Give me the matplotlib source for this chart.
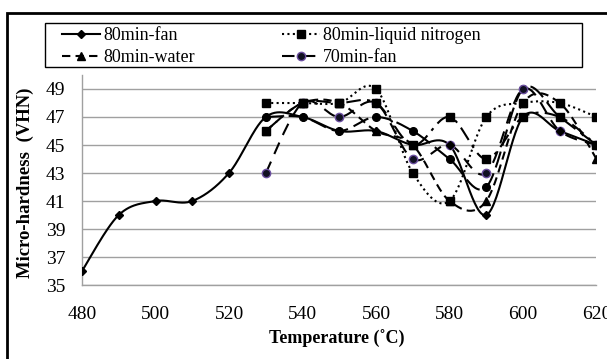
import numpy as np
import matplotlib
matplotlib.use("Agg")
import matplotlib.pyplot as plt
from matplotlib.lines import Line2D
from matplotlib.patches import Rectangle

plt.rcParams['font.family'] = ['Liberation Serif', 'DejaVu Serif']

# ---- data ----
temps_long = [480, 490, 500, 510, 520, 530, 540, 550, 560, 570, 580, 590, 600, 610, 620]
fan_80 = [36, 40, 41, 41, 43, 47, 47, 46, 46, 45, 45, 40, 47, 46, 45]

temps = [530, 540, 550, 560, 570, 580, 590, 600, 610, 620]
nitrogen_80 = [48, 48, 48, 49, 43, 41, 47, 48, 48, 47]
water_80 = [46, 48, 48, 46, 45, 41, 41, 48, 48, 44]
fan_70 = [43, 48, 47, 48, 44, 45, 43, 49, 46, 45]
# two more curves drawn in the chart but not in its legend
extra_sq = [46, 48, 48, 48, 45, 47, 44, 47, 47, 45]
extra_circ = [47, 47, 46, 47, 46, 44, 42, 49, 47, 45]

y_ticks = [35, 37, 39, 41, 43, 45, 47, 49]
x_ticks = [480, 500, 520, 540, 560, 580, 600, 620]


def smooth(xs, ys, n=30):
    """Excel-like smoothed line (Bezier through the points)."""
    p = np.column_stack([xs, ys]).astype(float)
    ext = np.vstack([p[0], p, p[-1]])
    out = []
    t = np.linspace(0, 1, n)[:, None]
    for i in range(len(p) - 1):
        p0, p1, p2, p3 = ext[i], ext[i + 1], ext[i + 2], ext[i + 3]
        c1 = p1 + (p2 - p0) / 6
        c2 = p2 - (p3 - p1) / 6
        seg = ((1 - t) ** 3) * p1 + 3 * ((1 - t) ** 2) * t * c1 + 3 * (1 - t) * t ** 2 * c2 + t ** 3 * p2
        out.append(seg if i == 0 else seg[1:])
    out = np.vstack(out)
    return out[:, 0], out[:, 1]


fig = plt.figure(figsize=(6.07, 3.59), dpi=100)
ax = fig.add_axes([0.1351, 0.2061, 0.8476, 0.5850])

# drawing order matters: squares sit on top of the purple circles
series = [
    # values, x, linestyle, marker, size, face, edge, label
    (extra_circ, temps, (0, (8, 3)), 'o', 5.5, 'black', 'black', None),
    (fan_70, temps, (0, (6, 4)), 'o', 6, '#111122', '#6b4fa0', '70min-fan'),
    (water_80, temps, (0, (4, 2.5)), '^', 5.5, 'black', 'black', '80min-water'),
    (extra_sq, temps, (0, (7, 3, 1.5, 3)), 's', 5.5, 'black', 'black', None),
    (nitrogen_80, temps, (0, (1, 1.6)), 's', 5.5, 'black', 'black', '80min-liquid nitrogen'),
    (fan_80, temps_long, '-', 'D', 3.8, 'black', 'black', '80min-fan'),
]

handles = {}
for k, (vals, xs, ls, mk, ms, fc, ec, lab) in enumerate(series):
    sx, sy = smooth(xs, vals)
    ax.plot(sx, sy, color='black', lw=1.5, linestyle=ls, zorder=3)
    ax.plot(xs, vals, linestyle='none', marker=mk, ms=ms, mfc=fc, mec=ec, mew=1.0, zorder=4 + k * 0.1)
    if lab:
        handles[lab] = Line2D([], [], color='black', lw=1.5, linestyle=ls, marker=mk,
                              ms=ms, mfc=fc, mec=ec, mew=1.0)

ax.set_xlim(480, 620)
ax.set_ylim(35, 50)
ax.set_xticks(x_ticks)
ax.set_yticks(y_ticks)
ax.tick_params(length=0, labelsize=14)
ax.tick_params(axis='x', pad=15)
ax.tick_params(axis='y', pad=12)
ax.grid(axis='y', color='#a0a0a0', lw=1.0)
ax.set_axisbelow(True)
for side in ['top', 'right']:
    ax.spines[side].set_visible(False)
for side in ['left', 'bottom']:
    ax.spines[side].set_color('#a0a0a0')
    ax.spines[side].set_linewidth(1.0)

fig.text(0.555, 0.055, 'Temperature (˚C)', fontsize=13, fontweight='bold', ha='center', va='center')
fig.text(0.041, 0.49, 'Micro-hardness  (VHN)', fontsize=13.5, fontweight='bold',
         rotation=90, ha='center', va='center')

# column-major order so that rows read: fan | nitrogen, water | 70min-fan
order = ['80min-fan', '80min-water', '80min-liquid nitrogen', '70min-fan']
leg = fig.legend([handles[k] for k in order], order, ncol=2, loc='upper left',
                 bbox_to_anchor=(62 / 607, 1 - 27 / 359),
                 fontsize=13, frameon=False, handlelength=2.1, handletextpad=0.2,
                 borderpad=0, labelspacing=0.3, columnspacing=4.8, borderaxespad=0)

# legend box and outer chart frame
fig.patches.append(Rectangle((45 / 607, 1 - 67 / 359), 537 / 607, 44 / 359,
                             transform=fig.transFigure, fill=False, edgecolor='black', lw=1.0))
fig.patches.append(Rectangle((7 / 607, -0.1), 1.2, 1.1 - 13 / 359, transform=fig.transFigure,
                             fill=False, edgecolor='black', lw=2.0))

fig.savefig('out.png', dpi=100)
